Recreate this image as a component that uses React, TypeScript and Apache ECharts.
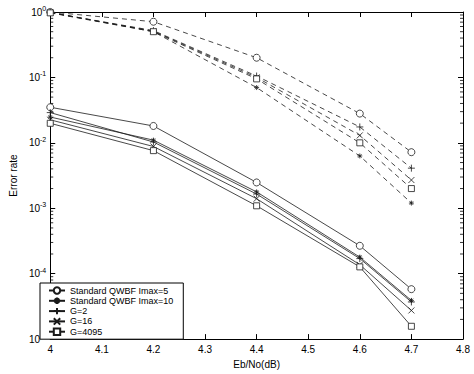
import React, { useEffect, useRef } from "react";
import * as echarts from "echarts";

const ebno = [4, 4.2, 4.4, 4.6, 4.7];
const seriesNames = [
  "Standard QWBF Imax=5",
  "Standard QWBF Imax=10",
  "G=2",
  "G=16",
  "G=4095",
];
// solid curves (lower group)
const solidImax5 = [0.035, 0.0181, 0.00248, 0.000267, 0.000058];
const solidImax10 = [0.0248, 0.011, 0.00178, 0.000179, 0.000039];
const solidG2 = [0.029, 0.0103, 0.00165, 0.00017, 0.000037];
const solidG16 = [0.0225, 0.0088, 0.0014, 0.000137, 0.0000274];
const solidG4095 = [0.0199, 0.0076, 0.00109, 0.000127, 0.0000157];
// dashed curves (upper group)
const dashImax5 = [1.0, 0.71, 0.2, 0.028, 0.0072];
const dashImax10 = [0.99, 0.5, 0.07, 0.0063, 0.0012];
const dashG2 = [0.98, 0.52, 0.105, 0.0175, 0.0041];
const dashG16 = [0.98, 0.51, 0.1, 0.013, 0.0027];
const dashG4095 = [0.97, 0.5, 0.095, 0.01, 0.002];

const xTicks = { min: 4, max: 4.8, interval: 0.1 };
const yRange = { min: 1e-5, max: 1 };
const minorMultipliers = [2, 3, 4, 5, 6, 7, 8, 9];
const decades = [-5, -4, -3, -2, -1];

const FONT = "Liberation Sans, Arial, sans-serif";
const INK = "#1a1a1a";

const symbols = [
  { symbol: "circle", size: 7, fill: "#fff" },
  {
    symbol: "path://M5 0V10M0 5H10M1.5 1.5L8.5 8.5M1.5 8.5L8.5 1.5",
    size: 5,
    fill: INK,
  },
  { symbol: "path://M5 0V10M0 5H10", size: 7, fill: INK },
  { symbol: "path://M1 1L9 9M1 9L9 1", size: 6, fill: INK },
  { symbol: "rect", size: 6, fill: "#fff" },
];

export default function App() {
  const ref = useRef<HTMLDivElement>(null);
  useEffect(() => {
    if (!ref.current) return;
    const chart = echarts.init(ref.current, null, { renderer: "svg" });
    const solid = [solidImax5, solidImax10, solidG2, solidG16, solidG4095];
    const dashed = [dashImax5, dashImax10, dashG2, dashG16, dashG4095];

    const mk = (vals: number[], i: number, dash: boolean) => ({
      type: "line",
      name: dash ? seriesNames[i] + " (dashed)" : seriesNames[i],
      xAxisIndex: 0,
      yAxisIndex: 0,
      data: vals.map((v, k) => [ebno[k], v]),
      symbol: symbols[i].symbol,
      symbolSize: symbols[i].size,
      showAllSymbol: true,
      clip: false,
      z: dash ? 3 : 4,
      lineStyle: {
        color: INK,
        width: 0.8,
        type: dash ? [5, 4] : "solid",
      },
      itemStyle: {
        color: symbols[i].fill,
        borderColor: INK,
        borderWidth: 0.8,
      },
      emphasis: { disabled: true },
    });

    const minorData: number[][] = [];
    decades.forEach((d) =>
      minorMultipliers.forEach((m) => minorData.push([4, m * Math.pow(10, d)]))
    );

    const yLabel = {
      color: "#000",
      margin: 4,
      formatter: (v: number) => {
        const e = Math.round(Math.log10(v));
        return `{b|10}{s|${e}}`;
      },
      rich: {
        b: { fontSize: 10, fontFamily: FONT, color: "#000" },
        s: {
          fontSize: 7,
          fontFamily: FONT,
          color: "#000",
          padding: [0, 0, 7, 0],
        },
      },
    };

    chart.setOption({
      animation: false,
      backgroundColor: "#fff",
      grid: { left: 37, right: 11, top: 12, bottom: 28 },
      legend: {
        data: seriesNames,
        orient: "vertical",
        left: 40,
        top: 283,
        itemWidth: 16,
        itemHeight: 8,
        itemGap: 1.3,
        padding: [3, 10, 3, 8],
        backgroundColor: "#fff",
        borderColor: "#000",
        borderWidth: 1,
        borderRadius: 0,
        selectedMode: false,
        textStyle: {
          fontFamily: FONT,
          fontSize: 9,
          color: "#000",
          lineHeight: 8,
        },
        z: 10,
      },
      xAxis: [
        {
          type: "value",
          min: xTicks.min,
          max: xTicks.max,
          interval: xTicks.interval,
          position: "bottom",
          name: "Eb/No(dB)",
          nameLocation: "middle",
          nameGap: 16,
          nameTextStyle: { fontFamily: FONT, fontSize: 10, color: "#000" },
          axisLine: { show: true, lineStyle: { color: "#000", width: 1 } },
          axisTick: { inside: true, length: 5, lineStyle: { color: "#000" } },
          axisLabel: {
            fontFamily: FONT,
            fontSize: 10,
            color: "#000",
            margin: 5,
            formatter: (v: number) => String(Math.round(v * 10) / 10),
          },
          splitLine: { show: false },
        },
        {
          type: "value",
          min: xTicks.min,
          max: xTicks.max,
          interval: xTicks.interval,
          position: "top",
          axisLine: { show: true, lineStyle: { color: "#000", width: 1 } },
          axisTick: { inside: true, length: 5, lineStyle: { color: "#000" } },
          axisLabel: { show: false },
          splitLine: { show: false },
        },
      ],
      yAxis: [
        {
          type: "log",
          logBase: 10,
          min: yRange.min,
          max: yRange.max,
          position: "left",
          name: "Error rate",
          nameLocation: "middle",
          nameGap: 21,
          nameRotate: 90,
          nameTextStyle: { fontFamily: FONT, fontSize: 10, color: "#000" },
          axisLine: { show: true, lineStyle: { color: "#000", width: 1 } },
          axisTick: { inside: true, length: 5, lineStyle: { color: "#000" } },
          axisLabel: yLabel,
          splitLine: { show: false },
        },
        {
          type: "log",
          logBase: 10,
          min: yRange.min,
          max: yRange.max,
          position: "right",
          axisLine: { show: true, lineStyle: { color: "#000", width: 1 } },
          axisTick: { inside: true, length: 5, lineStyle: { color: "#000" } },
          axisLabel: { show: false },
          splitLine: { show: false },
        },
      ],
      series: [
        ...dashed.map((d, i) => mk(d, i, true)),
        ...solid.map((d, i) => mk(d, i, false)),
        {
          type: "custom",
          name: "minorTicks",
          xAxisIndex: 0,
          yAxisIndex: 0,
          data: minorData,
          silent: true,
          clip: false,
          renderItem: (params: any, api: any) => {
            const v = api.value(1);
            const l = api.coord([xTicks.min, v]);
            const r = api.coord([xTicks.max, v]);
            return {
              type: "group",
              children: [
                {
                  type: "line",
                  shape: { x1: l[0], y1: l[1], x2: l[0] + 3, y2: l[1] },
                  style: { stroke: "#000", lineWidth: 0.8 },
                },
                {
                  type: "line",
                  shape: { x1: r[0], y1: r[1], x2: r[0] - 3, y2: r[1] },
                  style: { stroke: "#000", lineWidth: 0.8 },
                },
              ],
            };
          },
        },
      ],
    });
    return () => chart.dispose();
  }, []);
  return (
    <div
      ref={ref}
      style={{ position: "absolute", left: 0, top: 0, width: 474, height: 374 }}
    />
  );
}
